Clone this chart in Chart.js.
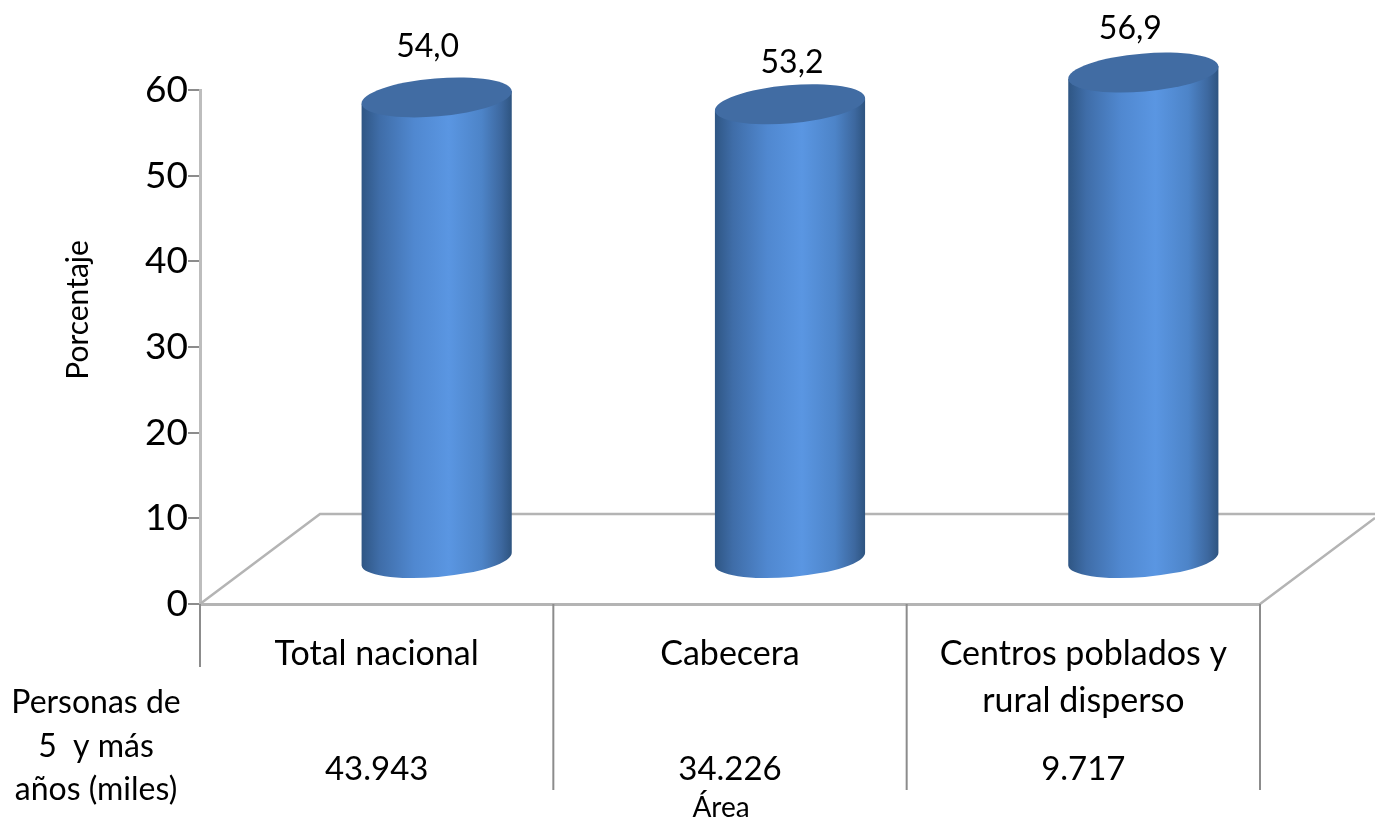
<!DOCTYPE html>
<html>
<head>
<meta charset="utf-8">
<script src="https://cdn.jsdelivr.net/npm/chart.js@4"></script>
<style>
  html, body { margin: 0; background: #fff; }
  canvas { display: block; }
</style>
</head>
<body>
<canvas id="chart" width="1375" height="819"></canvas>
<script>
const categories = ['Total nacional', 'Cabecera', ['Centros poblados y', 'rural disperso']];
const percentages = [54.0, 53.2, 56.9];
const valueLabels = ['54,0', '53,2', '56,9'];
const personas = ['43.943', '34.226', '9.717'];
const personasTitle = ['Personas de', '5  y más', 'años (miles)'];
const yAxisTitle = 'Porcentaje';
const xAxisTitle = 'Área';

const FONT = 'Lato, "Open Sans", sans-serif';
// the cylinders stand in the middle of the 3d floor
const DEPTH_X = 60;
const DEPTH_Y = 44;
const TILT = -0.085;
const RY = 18;

function drawCylinder(ctx, cx, top, bottom, halfW) {
  const rx = halfW / Math.cos(TILT);
  const dy = Math.tan(TILT) * halfW;

  const grad = ctx.createLinearGradient(cx - halfW, 0, cx + halfW, 0);
  grad.addColorStop(0, '#2f5684');
  grad.addColorStop(0.12, '#3f6da8');
  grad.addColorStop(0.35, '#5088d0');
  grad.addColorStop(0.58, '#5a96e2');
  grad.addColorStop(0.8, '#4d84c8');
  grad.addColorStop(0.93, '#3d689f');
  grad.addColorStop(1, '#2e5480');

  ctx.beginPath();
  ctx.moveTo(cx - halfW, top - dy);
  ctx.lineTo(cx - halfW, bottom - dy);
  ctx.ellipse(cx, bottom, rx, RY, TILT, Math.PI, 0, true);
  ctx.lineTo(cx + halfW, top + dy);
  ctx.closePath();
  ctx.fillStyle = grad;
  ctx.fill();

  ctx.beginPath();
  ctx.ellipse(cx, top, rx, RY + 1, TILT, 0, Math.PI * 2);
  ctx.fillStyle = '#416ca3';
  ctx.fill();
}

const floorPlugin = {
  id: 'floor',
  beforeDatasetsDraw(chart) {
    const { ctx, chartArea: a } = chart;
    ctx.save();
    ctx.strokeStyle = '#b4b4b4';
    ctx.lineWidth = 2.5;
    ctx.beginPath();
    ctx.moveTo(a.left, a.bottom);
    ctx.lineTo(a.left + 120, a.bottom - 90);
    ctx.lineTo(1375, a.bottom - 90);
    ctx.moveTo(a.right, a.bottom);
    ctx.lineTo(1375, a.bottom - 86);
    ctx.stroke();
    ctx.restore();
  }
};

const cylinderPlugin = {
  id: 'cylinders',
  afterDatasetsDraw(chart) {
    const { ctx, scales } = chart;
    const bars = chart.getDatasetMeta(0).data;
    // the value labels were placed by hand in the original
    const labelDx = [-9, 2, -13];
    const labelDy = [-95, -86, -88];
    ctx.save();
    bars.forEach((bar, i) => {
      drawCylinder(ctx, bar.x + DEPTH_X, bar.y - DEPTH_Y, bar.base - DEPTH_Y, bar.width / 2);
      ctx.fillStyle = '#000';
      ctx.font = '32px ' + FONT;
      ctx.textAlign = 'center';
      ctx.textBaseline = 'middle';
      ctx.fillText(valueLabels[i], bar.x + DEPTH_X + labelDx[i], bar.y + labelDy[i]);
    });

    // separators under the axis, first one is shorter
    const x = scales.x;
    const bottom = scales.y.bottom;
    ctx.strokeStyle = '#8c8c8c';
    ctx.lineWidth = 2;
    for (let i = 0; i <= categories.length; i++) {
      const px = x.getPixelForValue(i - 0.5);
      ctx.beginPath();
      ctx.moveTo(px, bottom);
      ctx.lineTo(px, i === 0 ? bottom + 63 : bottom + 186);
      ctx.stroke();
    }

    ctx.fillStyle = '#000';
    ctx.textAlign = 'center';
    ctx.textBaseline = 'middle';
    ctx.font = '33px ' + FONT;
    personas.forEach((p, i) => ctx.fillText(p, x.getPixelForValue(i), 769));

    ctx.font = '32px ' + FONT;
    [703, 747, 790].forEach((y, i) => ctx.fillText(personasTitle[i], 96, y));

    ctx.font = '28px ' + FONT;
    ctx.fillText(xAxisTitle, 721, 808);

    ctx.save();
    ctx.translate(78, 310);
    ctx.rotate(-Math.PI / 2);
    ctx.font = '30px ' + FONT;
    ctx.fillText(yAxisTitle, 0, 0);
    ctx.restore();
    ctx.restore();
  }
};

new Chart(document.getElementById('chart'), {
  type: 'bar',
  data: {
    labels: categories,
    datasets: [{
      data: percentages,
      backgroundColor: 'rgba(0,0,0,0)',
      barPercentage: 0.425,
      categoryPercentage: 1
    }]
  },
  plugins: [floorPlugin, cylinderPlugin],
  options: {
    responsive: false,
    animation: false,
    layout: { padding: { top: 90, right: 115, left: 0, bottom: 0 } },
    plugins: { legend: { display: false }, tooltip: { enabled: false } },
    scales: {
      x: {
        grid: { display: false },
        border: { color: '#b4b4b4', width: 3 },
        ticks: {
          color: '#000',
          font: { family: FONT, size: 34, lineHeight: 1.38 },
          padding: 19,
          maxRotation: 0,
          autoSkip: false
        },
        afterFit(s) { s.height = 215; }
      },
      y: {
        min: 0,
        max: 60,
        grid: { drawOnChartArea: false, color: '#8c8c8c', tickLength: 12, lineWidth: 2 },
        border: { color: '#bdbdbd', width: 3 },
        ticks: {
          stepSize: 10,
          color: '#000',
          padding: 0,
          font: { family: FONT, size: 37 }
        },
        afterFit(s) { s.width = 200; }
      }
    }
  }
});
</script>
</body>
</html>
